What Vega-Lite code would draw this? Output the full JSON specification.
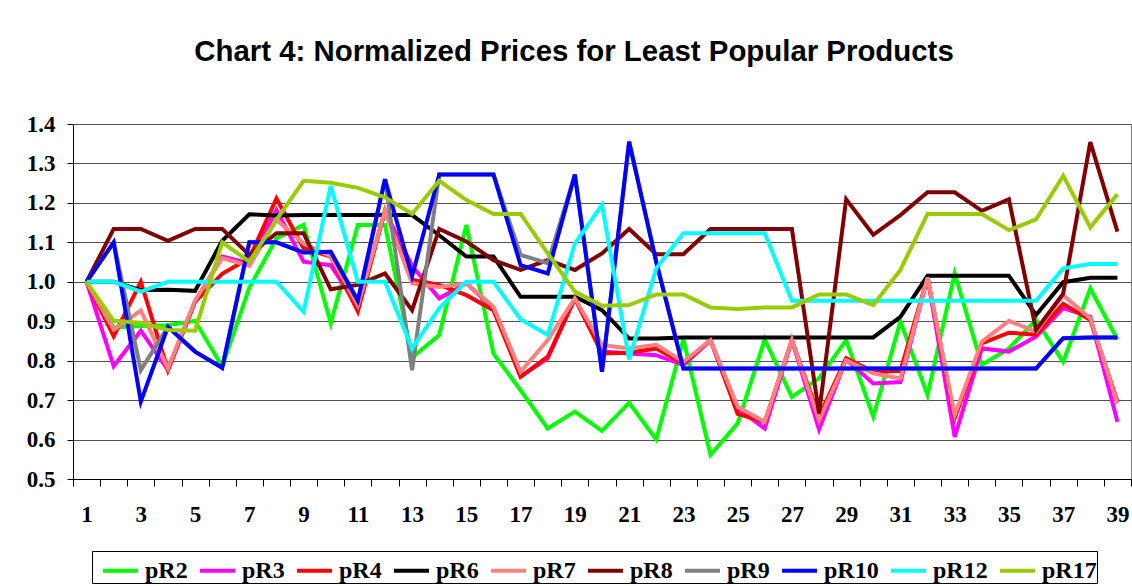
{
"$schema":"https://vega.github.io/schema/vega-lite/v6.json",
"autosize":{"type":"none"},
"padding":{"left":73,"top":124,"right":1,"bottom":107},
"width":1058,"height":355,
"background":"white",
"title":{"text":"Chart 4: Normalized Prices for Least Popular Products","font":"Liberation Sans","fontSize":29.4,"fontWeight":"bold","color":"black","anchor":"middle","dx":-28,"offset":46},
"config":{"view":{"stroke":"#808080","strokeWidth":1}},
"data":{"values":[
{"x":1,"s":"pR2","v":1},{"x":2,"s":"pR2","v":0.884},{"x":3,"s":"pR2","v":0.888},{"x":4,"s":"pR2","v":0.89},{"x":5,"s":"pR2","v":0.901},{"x":6,"s":"pR2","v":0.785},{"x":7,"s":"pR2","v":0.985},{"x":8,"s":"pR2","v":1.11},{"x":9,"s":"pR2","v":1.144},{"x":10,"s":"pR2","v":0.895},{"x":11,"s":"pR2","v":1.144},{"x":12,"s":"pR2","v":1.144},{"x":13,"s":"pR2","v":0.808},{"x":14,"s":"pR2","v":0.865},{"x":15,"s":"pR2","v":1.144},{"x":16,"s":"pR2","v":0.818},{"x":17,"s":"pR2","v":0.725},{"x":18,"s":"pR2","v":0.628},{"x":19,"s":"pR2","v":0.671},{"x":20,"s":"pR2","v":0.622},{"x":21,"s":"pR2","v":0.693},{"x":22,"s":"pR2","v":0.6},{"x":23,"s":"pR2","v":0.854},{"x":24,"s":"pR2","v":0.561},{"x":25,"s":"pR2","v":0.641},{"x":26,"s":"pR2","v":0.854},{"x":27,"s":"pR2","v":0.708},{"x":28,"s":"pR2","v":0.755},{"x":29,"s":"pR2","v":0.852},{"x":30,"s":"pR2","v":0.658},{"x":31,"s":"pR2","v":0.899},{"x":32,"s":"pR2","v":0.713},{"x":33,"s":"pR2","v":1.021},{"x":34,"s":"pR2","v":0.789},{"x":35,"s":"pR2","v":0.831},{"x":36,"s":"pR2","v":0.903},{"x":37,"s":"pR2","v":0.797},{"x":38,"s":"pR2","v":0.983},{"x":39,"s":"pR2","v":0.854},
{"x":1,"s":"pR3","v":1},{"x":2,"s":"pR3","v":0.786},{"x":3,"s":"pR3","v":0.876},{"x":4,"s":"pR3","v":0.776},{"x":5,"s":"pR3","v":0.95},{"x":6,"s":"pR3","v":1.064},{"x":7,"s":"pR3","v":1.047},{"x":8,"s":"pR3","v":1.182},{"x":9,"s":"pR3","v":1.051},{"x":10,"s":"pR3","v":1.042},{"x":11,"s":"pR3","v":0.937},{"x":12,"s":"pR3","v":1.18},{"x":13,"s":"pR3","v":1.04},{"x":14,"s":"pR3","v":0.958},{"x":15,"s":"pR3","v":0.996},{"x":16,"s":"pR3","v":0.933},{"x":17,"s":"pR3","v":0.76},{"x":18,"s":"pR3","v":0.806},{"x":19,"s":"pR3","v":0.958},{"x":20,"s":"pR3","v":0.823},{"x":21,"s":"pR3","v":0.818},{"x":22,"s":"pR3","v":0.814},{"x":23,"s":"pR3","v":0.789},{"x":24,"s":"pR3","v":0.852},{"x":25,"s":"pR3","v":0.679},{"x":26,"s":"pR3","v":0.628},{"x":27,"s":"pR3","v":0.852},{"x":28,"s":"pR3","v":0.626},{"x":29,"s":"pR3","v":0.803},{"x":30,"s":"pR3","v":0.742},{"x":31,"s":"pR3","v":0.746},{"x":32,"s":"pR3","v":1.011},{"x":33,"s":"pR3","v":0.607},{"x":34,"s":"pR3","v":0.831},{"x":35,"s":"pR3","v":0.823},{"x":36,"s":"pR3","v":0.861},{"x":37,"s":"pR3","v":0.933},{"x":38,"s":"pR3","v":0.911},{"x":39,"s":"pR3","v":0.645},
{"x":1,"s":"pR4","v":1},{"x":2,"s":"pR4","v":0.862},{"x":3,"s":"pR4","v":1.0},{"x":4,"s":"pR4","v":0.776},{"x":5,"s":"pR4","v":0.95},{"x":6,"s":"pR4","v":1.02},{"x":7,"s":"pR4","v":1.06},{"x":8,"s":"pR4","v":1.211},{"x":9,"s":"pR4","v":1.085},{"x":10,"s":"pR4","v":1.064},{"x":11,"s":"pR4","v":0.925},{"x":12,"s":"pR4","v":1.18},{"x":13,"s":"pR4","v":1.005},{"x":14,"s":"pR4","v":0.992},{"x":15,"s":"pR4","v":0.966},{"x":16,"s":"pR4","v":0.928},{"x":17,"s":"pR4","v":0.759},{"x":18,"s":"pR4","v":0.81},{"x":19,"s":"pR4","v":0.958},{"x":20,"s":"pR4","v":0.818},{"x":21,"s":"pR4","v":0.82},{"x":22,"s":"pR4","v":0.831},{"x":23,"s":"pR4","v":0.793},{"x":24,"s":"pR4","v":0.852},{"x":25,"s":"pR4","v":0.665},{"x":26,"s":"pR4","v":0.645},{"x":27,"s":"pR4","v":0.852},{"x":28,"s":"pR4","v":0.658},{"x":29,"s":"pR4","v":0.806},{"x":30,"s":"pR4","v":0.772},{"x":31,"s":"pR4","v":0.774},{"x":32,"s":"pR4","v":1.011},{"x":33,"s":"pR4","v":0.654},{"x":34,"s":"pR4","v":0.844},{"x":35,"s":"pR4","v":0.871},{"x":36,"s":"pR4","v":0.866},{"x":37,"s":"pR4","v":0.944},{"x":38,"s":"pR4","v":0.903},{"x":39,"s":"pR4","v":0.696},
{"x":1,"s":"pR6","v":1},{"x":2,"s":"pR6","v":1},{"x":3,"s":"pR6","v":0.979},{"x":4,"s":"pR6","v":0.98},{"x":5,"s":"pR6","v":0.977},{"x":6,"s":"pR6","v":1.104},{"x":7,"s":"pR6","v":1.171},{"x":8,"s":"pR6","v":1.168},{"x":9,"s":"pR6","v":1.169},{"x":10,"s":"pR6","v":1.169},{"x":11,"s":"pR6","v":1.169},{"x":12,"s":"pR6","v":1.169},{"x":13,"s":"pR6","v":1.169},{"x":14,"s":"pR6","v":1.118},{"x":15,"s":"pR6","v":1.064},{"x":16,"s":"pR6","v":1.064},{"x":17,"s":"pR6","v":0.962},{"x":18,"s":"pR6","v":0.962},{"x":19,"s":"pR6","v":0.962},{"x":20,"s":"pR6","v":0.928},{"x":21,"s":"pR6","v":0.856},{"x":22,"s":"pR6","v":0.856},{"x":23,"s":"pR6","v":0.859},{"x":24,"s":"pR6","v":0.859},{"x":25,"s":"pR6","v":0.859},{"x":26,"s":"pR6","v":0.859},{"x":27,"s":"pR6","v":0.859},{"x":28,"s":"pR6","v":0.859},{"x":29,"s":"pR6","v":0.859},{"x":30,"s":"pR6","v":0.859},{"x":31,"s":"pR6","v":0.911},{"x":32,"s":"pR6","v":1.015},{"x":33,"s":"pR6","v":1.015},{"x":34,"s":"pR6","v":1.015},{"x":35,"s":"pR6","v":1.015},{"x":36,"s":"pR6","v":0.916},{"x":37,"s":"pR6","v":0.999},{"x":38,"s":"pR6","v":1.01},{"x":39,"s":"pR6","v":1.01},
{"x":1,"s":"pR7","v":1},{"x":2,"s":"pR7","v":0.878},{"x":3,"s":"pR7","v":0.927},{"x":4,"s":"pR7","v":0.78},{"x":5,"s":"pR7","v":0.953},{"x":6,"s":"pR7","v":1.06},{"x":7,"s":"pR7","v":1.04},{"x":8,"s":"pR7","v":1.157},{"x":9,"s":"pR7","v":1.097},{"x":10,"s":"pR7","v":1.064},{"x":11,"s":"pR7","v":0.94},{"x":12,"s":"pR7","v":1.18},{"x":13,"s":"pR7","v":0.996},{"x":14,"s":"pR7","v":0.987},{"x":15,"s":"pR7","v":0.996},{"x":16,"s":"pR7","v":0.937},{"x":17,"s":"pR7","v":0.772},{"x":18,"s":"pR7","v":0.852},{"x":19,"s":"pR7","v":0.958},{"x":20,"s":"pR7","v":0.84},{"x":21,"s":"pR7","v":0.831},{"x":22,"s":"pR7","v":0.84},{"x":23,"s":"pR7","v":0.797},{"x":24,"s":"pR7","v":0.852},{"x":25,"s":"pR7","v":0.683},{"x":26,"s":"pR7","v":0.645},{"x":27,"s":"pR7","v":0.852},{"x":28,"s":"pR7","v":0.649},{"x":29,"s":"pR7","v":0.801},{"x":30,"s":"pR7","v":0.768},{"x":31,"s":"pR7","v":0.755},{"x":32,"s":"pR7","v":1.011},{"x":33,"s":"pR7","v":0.662},{"x":34,"s":"pR7","v":0.848},{"x":35,"s":"pR7","v":0.901},{"x":36,"s":"pR7","v":0.873},{"x":37,"s":"pR7","v":0.966},{"x":38,"s":"pR7","v":0.907},{"x":39,"s":"pR7","v":0.692},
{"x":1,"s":"pR8","v":1},{"x":2,"s":"pR8","v":1.134},{"x":3,"s":"pR8","v":1.134},{"x":4,"s":"pR8","v":1.104},{"x":5,"s":"pR8","v":1.134},{"x":6,"s":"pR8","v":1.134},{"x":7,"s":"pR8","v":1.068},{"x":8,"s":"pR8","v":1.123},{"x":9,"s":"pR8","v":1.123},{"x":10,"s":"pR8","v":0.981},{"x":11,"s":"pR8","v":0.992},{"x":12,"s":"pR8","v":1.021},{"x":13,"s":"pR8","v":0.928},{"x":14,"s":"pR8","v":1.134},{"x":15,"s":"pR8","v":1.102},{"x":16,"s":"pR8","v":1.055},{"x":17,"s":"pR8","v":1.03},{"x":18,"s":"pR8","v":1.055},{"x":19,"s":"pR8","v":1.03},{"x":20,"s":"pR8","v":1.072},{"x":21,"s":"pR8","v":1.134},{"x":22,"s":"pR8","v":1.07},{"x":23,"s":"pR8","v":1.07},{"x":24,"s":"pR8","v":1.134},{"x":25,"s":"pR8","v":1.134},{"x":26,"s":"pR8","v":1.134},{"x":27,"s":"pR8","v":1.134},{"x":28,"s":"pR8","v":0.666},{"x":29,"s":"pR8","v":1.209},{"x":30,"s":"pR8","v":1.119},{"x":31,"s":"pR8","v":1.169},{"x":32,"s":"pR8","v":1.227},{"x":33,"s":"pR8","v":1.227},{"x":34,"s":"pR8","v":1.18},{"x":35,"s":"pR8","v":1.209},{"x":36,"s":"pR8","v":0.878},{"x":37,"s":"pR8","v":0.97},{"x":38,"s":"pR8","v":1.354},{"x":39,"s":"pR8","v":1.127},
{"x":1,"s":"pR9","v":1},{"x":2,"s":"pR9","v":1.1},{"x":3,"s":"pR9","v":0.776},{"x":4,"s":"pR9","v":0.886},{"x":5,"s":"pR9","v":0.823},{"x":6,"s":"pR9","v":0.782},{"x":7,"s":"pR9","v":1.1},{"x":8,"s":"pR9","v":1.1},{"x":9,"s":"pR9","v":1.074},{"x":10,"s":"pR9","v":1.076},{"x":11,"s":"pR9","v":0.952},{"x":12,"s":"pR9","v":1.26},{"x":13,"s":"pR9","v":0.776},{"x":14,"s":"pR9","v":1.272},{"x":15,"s":"pR9","v":1.272},{"x":16,"s":"pR9","v":1.272},{"x":17,"s":"pR9","v":1.068},{"x":18,"s":"pR9","v":1.047},{"x":19,"s":"pR9","v":1.272},{"x":20,"s":"pR9","v":0.772},{"x":21,"s":"pR9","v":1.355},{"x":22,"s":"pR9","v":1.05},{"x":23,"s":"pR9","v":0.78},{"x":24,"s":"pR9","v":0.78},{"x":25,"s":"pR9","v":0.78},{"x":26,"s":"pR9","v":0.78},{"x":27,"s":"pR9","v":0.78},{"x":28,"s":"pR9","v":0.78},{"x":29,"s":"pR9","v":0.78},{"x":30,"s":"pR9","v":0.78},{"x":31,"s":"pR9","v":0.78},{"x":32,"s":"pR9","v":0.78},{"x":33,"s":"pR9","v":0.78},{"x":34,"s":"pR9","v":0.78},{"x":35,"s":"pR9","v":0.78},{"x":36,"s":"pR9","v":0.78},{"x":37,"s":"pR9","v":0.857},{"x":38,"s":"pR9","v":0.859},{"x":39,"s":"pR9","v":0.859},
{"x":1,"s":"pR10","v":1},{"x":2,"s":"pR10","v":1.1},{"x":3,"s":"pR10","v":0.696},{"x":4,"s":"pR10","v":0.886},{"x":5,"s":"pR10","v":0.823},{"x":6,"s":"pR10","v":0.782},{"x":7,"s":"pR10","v":1.1},{"x":8,"s":"pR10","v":1.1},{"x":9,"s":"pR10","v":1.074},{"x":10,"s":"pR10","v":1.076},{"x":11,"s":"pR10","v":0.952},{"x":12,"s":"pR10","v":1.26},{"x":13,"s":"pR10","v":1.014},{"x":14,"s":"pR10","v":1.272},{"x":15,"s":"pR10","v":1.272},{"x":16,"s":"pR10","v":1.272},{"x":17,"s":"pR10","v":1.042},{"x":18,"s":"pR10","v":1.021},{"x":19,"s":"pR10","v":1.272},{"x":20,"s":"pR10","v":0.772},{"x":21,"s":"pR10","v":1.355},{"x":22,"s":"pR10","v":1.05},{"x":23,"s":"pR10","v":0.78},{"x":24,"s":"pR10","v":0.78},{"x":25,"s":"pR10","v":0.78},{"x":26,"s":"pR10","v":0.78},{"x":27,"s":"pR10","v":0.78},{"x":28,"s":"pR10","v":0.78},{"x":29,"s":"pR10","v":0.78},{"x":30,"s":"pR10","v":0.78},{"x":31,"s":"pR10","v":0.78},{"x":32,"s":"pR10","v":0.78},{"x":33,"s":"pR10","v":0.78},{"x":34,"s":"pR10","v":0.78},{"x":35,"s":"pR10","v":0.78},{"x":36,"s":"pR10","v":0.78},{"x":37,"s":"pR10","v":0.857},{"x":38,"s":"pR10","v":0.859},{"x":39,"s":"pR10","v":0.859},
{"x":1,"s":"pR12","v":1},{"x":2,"s":"pR12","v":1},{"x":3,"s":"pR12","v":0.975},{"x":4,"s":"pR12","v":1},{"x":5,"s":"pR12","v":1},{"x":6,"s":"pR12","v":1},{"x":7,"s":"pR12","v":1},{"x":8,"s":"pR12","v":1},{"x":9,"s":"pR12","v":0.924},{"x":10,"s":"pR12","v":1.243},{"x":11,"s":"pR12","v":1},{"x":12,"s":"pR12","v":1},{"x":13,"s":"pR12","v":0.831},{"x":14,"s":"pR12","v":0.933},{"x":15,"s":"pR12","v":1},{"x":16,"s":"pR12","v":1},{"x":17,"s":"pR12","v":0.905},{"x":18,"s":"pR12","v":0.865},{"x":19,"s":"pR12","v":1.097},{"x":20,"s":"pR12","v":1.195},{"x":21,"s":"pR12","v":0.803},{"x":22,"s":"pR12","v":1.034},{"x":23,"s":"pR12","v":1.123},{"x":24,"s":"pR12","v":1.123},{"x":25,"s":"pR12","v":1.123},{"x":26,"s":"pR12","v":1.123},{"x":27,"s":"pR12","v":0.952},{"x":28,"s":"pR12","v":0.952},{"x":29,"s":"pR12","v":0.952},{"x":30,"s":"pR12","v":0.952},{"x":31,"s":"pR12","v":0.952},{"x":32,"s":"pR12","v":0.952},{"x":33,"s":"pR12","v":0.952},{"x":34,"s":"pR12","v":0.952},{"x":35,"s":"pR12","v":0.952},{"x":36,"s":"pR12","v":0.952},{"x":37,"s":"pR12","v":1.034},{"x":38,"s":"pR12","v":1.045},{"x":39,"s":"pR12","v":1.045},
{"x":1,"s":"pR17","v":1},{"x":2,"s":"pR17","v":0.901},{"x":3,"s":"pR17","v":0.896},{"x":4,"s":"pR17","v":0.878},{"x":5,"s":"pR17","v":0.876},{"x":6,"s":"pR17","v":1.1},{"x":7,"s":"pR17","v":1.051},{"x":8,"s":"pR17","v":1.157},{"x":9,"s":"pR17","v":1.256},{"x":10,"s":"pR17","v":1.251},{"x":11,"s":"pR17","v":1.238},{"x":12,"s":"pR17","v":1.214},{"x":13,"s":"pR17","v":1.172},{"x":14,"s":"pR17","v":1.256},{"x":15,"s":"pR17","v":1.207},{"x":16,"s":"pR17","v":1.172},{"x":17,"s":"pR17","v":1.172},{"x":18,"s":"pR17","v":1.072},{"x":19,"s":"pR17","v":0.975},{"x":20,"s":"pR17","v":0.939},{"x":21,"s":"pR17","v":0.941},{"x":22,"s":"pR17","v":0.968},{"x":23,"s":"pR17","v":0.968},{"x":24,"s":"pR17","v":0.935},{"x":25,"s":"pR17","v":0.931},{"x":26,"s":"pR17","v":0.935},{"x":27,"s":"pR17","v":0.935},{"x":28,"s":"pR17","v":0.968},{"x":29,"s":"pR17","v":0.968},{"x":30,"s":"pR17","v":0.941},{"x":31,"s":"pR17","v":1.03},{"x":32,"s":"pR17","v":1.172},{"x":33,"s":"pR17","v":1.172},{"x":34,"s":"pR17","v":1.172},{"x":35,"s":"pR17","v":1.131},{"x":36,"s":"pR17","v":1.158},{"x":37,"s":"pR17","v":1.269},{"x":38,"s":"pR17","v":1.138},{"x":39,"s":"pR17","v":1.222}
]},
"encoding":{
"y":{"field":"v","type":"quantitative","scale":{"domain":[0.5,1.4],"nice":false,"zero":false},
"axis":{"title":null,"values":[0.5,0.6,0.7,0.8,0.9,1.0,1.1,1.2,1.3,1.4],"format":".1f","grid":true,"gridColor":"#505050","gridWidth":1,
"tickColor":"black","tickSize":6,"domainColor":"black","domainWidth":1,
"labelFont":"Liberation Serif","labelFontWeight":"bold","labelFontSize":23,"labelColor":"black","labelPadding":12}}
},
"layer":[
{"mark":{"type":"line","strokeWidth":4,"strokeJoin":"miter","clip":true},
"encoding":{
"x":{"field":"x","type":"quantitative","scale":{"domain":[0.5,39.5],"nice":false,"zero":false},
"axis":{"title":null,"orient":"bottom","grid":false,"labels":false,"values":[0.5,1.5,2.5,3.5,4.5,5.5,6.5,7.5,8.5,9.5,10.5,11.5,12.5,13.5,14.5,15.5,16.5,17.5,18.5,19.5,20.5,21.5,22.5,23.5,24.5,25.5,26.5,27.5,28.5,29.5,30.5,31.5,32.5,33.5,34.5,35.5,36.5,37.5,38.5,39.5],
"tickColor":"black","tickSize":7,"domainColor":"black","domainWidth":1}},
"color":{"field":"s","type":"nominal","sort":null,
"scale":{"domain":["pR2","pR3","pR4","pR6","pR7","pR8","pR9","pR10","pR12","pR17"],"range":["#00FF00","#FF00FF","#FF0000","#000000","#FF8080","#800000","#808080","#0000FF","#00FFFF","#99CC00"]},
"legend":{"title":null,"orient":"none","legendX":19,"legendY":427,"direction":"horizontal","symbolType":"stroke","symbolSize":1225,"symbolStrokeWidth":4,"symbolOffset":9,
"labelFont":"Liberation Serif","labelFontWeight":"bold","labelFontSize":24,"labelColor":"black","labelOffset":5,"columnPadding":1,
"strokeColor":"black","padding":0,"fillColor":"white"}},
"strokeWidth":{"condition":{"test":"datum.s === 'pR7'","value":5.5},"value":4}
}},
{"mark":{"type":"point","opacity":0},
"encoding":{
"x":{"field":"x","type":"quantitative",
"axis":{"title":null,"orient":"bottom","grid":false,"ticks":false,"domain":false,"values":[1,3,5,7,9,11,13,15,17,19,21,23,25,27,29,31,33,35,37,39],"format":"d","labelOverlap":false,"labelFlush":false,
"labelFont":"Liberation Serif","labelFontWeight":"bold","labelFontSize":23,"labelColor":"black","labelPadding":24}}
}}
],
"resolve":{"axis":{"x":"independent"}}
}
